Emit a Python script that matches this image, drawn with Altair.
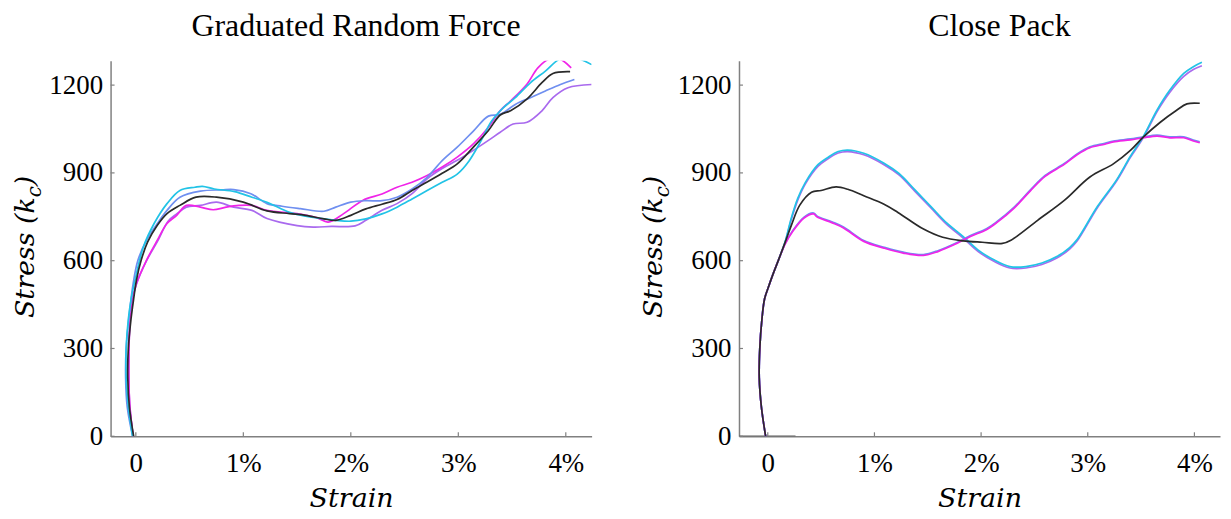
import altair as alt
import pandas as pd

# ---------------- data ----------------
X_TICKS = [0, 1, 2, 3, 4]
Y_TICKS = [0, 300, 600, 900, 1200]

# Panel 1: Graduated Random Force
grf_black_x = [-0.02, -0.06, -0.075, -0.07, -0.045, -0.02, 0.006, 0.05, 0.11, 0.20, 0.29, 0.41, 0.56, 0.75, 1.00, 1.22, 1.43, 1.58, 1.75, 1.86, 2.00, 2.14, 2.29, 2.43, 2.57, 2.71, 2.85, 2.99, 3.14, 3.28, 3.39, 3.49, 3.64, 3.78, 3.88, 4.04]
grf_black_y = [0, 100, 200, 300, 400, 470, 534, 602, 664, 721, 761, 789, 817, 817, 800, 770, 761, 755, 743, 738, 755, 777, 793, 809, 840, 869, 899, 931, 988, 1045, 1098, 1113, 1153, 1209, 1240, 1246]

grf_cyan_x = [-0.03, -0.07, -0.09, -0.09, -0.07, -0.04, 0.006, 0.07, 0.17, 0.29, 0.41, 0.55, 0.62, 0.73, 0.92, 1.08, 1.22, 1.43, 1.58, 1.75, 1.86, 2.00, 2.14, 2.29, 2.43, 2.57, 2.71, 2.85, 2.99, 3.10, 3.21, 3.31, 3.42, 3.53, 3.67, 3.81, 3.95, 4.10, 4.24]
grf_cyan_y = [0, 100, 200, 300, 400, 476, 556, 647, 727, 795, 840, 851, 854, 845, 836, 817, 800, 765, 752, 743, 738, 735, 743, 760, 783, 811, 840, 868, 896, 941, 1009, 1077, 1123, 1157, 1208, 1248, 1290, 1292, 1270]

grf_blue_x = [-0.03, -0.08, -0.095, -0.09, -0.06, -0.025, 0.02, 0.10, 0.20, 0.29, 0.41, 0.60, 0.80, 0.91, 1.07, 1.22, 1.36, 1.53, 1.75, 1.86, 2.00, 2.14, 2.29, 2.43, 2.57, 2.71, 2.85, 2.99, 3.14, 3.28, 3.39, 3.53, 3.67, 3.81, 3.95, 4.08]
grf_blue_y = [0, 100, 200, 300, 420, 522, 602, 670, 727, 772, 817, 838, 842, 843, 829, 795, 786, 778, 769, 783, 800, 805, 805, 817, 845, 885, 942, 988, 1043, 1094, 1100, 1134, 1157, 1180, 1202, 1219]

grf_magenta_x = [-0.025, -0.055, -0.065, -0.06, -0.04, 0.006, 0.10, 0.20, 0.29, 0.38, 0.47, 0.60, 0.72, 0.84, 0.96, 1.08, 1.22, 1.50, 1.68, 1.79, 1.93, 2.11, 2.29, 2.43, 2.57, 2.71, 2.85, 2.99, 3.14, 3.28, 3.39, 3.49, 3.64, 3.74, 3.85, 3.95, 4.05]
grf_magenta_y = [0, 100, 200, 350, 454, 522, 602, 670, 727, 755, 789, 783, 774, 783, 789, 789, 772, 761, 747, 732, 760, 806, 828, 851, 868, 891, 920, 954, 999, 1056, 1113, 1147, 1204, 1259, 1290, 1288, 1259]

grf_purple_x = [-0.025, -0.055, -0.065, -0.06, -0.04, 0.006, 0.10, 0.20, 0.30, 0.38, 0.47, 0.60, 0.75, 0.91, 1.08, 1.22, 1.50, 1.65, 1.82, 2.04, 2.14, 2.29, 2.43, 2.57, 2.71, 2.85, 2.99, 3.14, 3.28, 3.39, 3.51, 3.64, 3.78, 3.88, 4.02, 4.24]
grf_purple_y = [0, 100, 190, 350, 450, 520, 600, 665, 735, 760, 783, 789, 800, 783, 772, 744, 720, 715, 717, 719, 738, 772, 795, 829, 880, 915, 943, 977, 1011, 1039, 1067, 1073, 1113, 1157, 1191, 1202]

# Panel 2: Close Pack
cp_high_x = [-0.02, -0.06, -0.08, -0.075, -0.055, -0.03, 0.007, 0.05, 0.10, 0.16, 0.22, 0.28, 0.35, 0.47, 0.56, 0.66, 0.75, 0.90, 1.09, 1.23, 1.38, 1.53, 1.68, 1.83, 1.97, 2.12, 2.27, 2.42, 2.57, 2.71, 2.83, 2.90, 3.09, 3.27, 3.40, 3.52, 3.65, 3.77, 3.90, 3.99, 4.07]
cp_cyan_y = [0, 100, 200, 300, 400, 470, 511, 555, 602, 662, 745, 812, 866, 928, 952, 973, 978, 967, 933, 898, 842, 785, 728, 683, 637, 603, 580, 580, 592, 614, 645, 672, 785, 876, 957, 1024, 1115, 1183, 1240, 1263, 1278]
cp_purple_y = [0, 100, 200, 300, 400, 470, 511, 555, 602, 660, 740, 806, 861, 922, 947, 968, 973, 962, 928, 893, 837, 780, 723, 678, 632, 598, 575, 575, 587, 609, 640, 667, 781, 872, 953, 1020, 1110, 1176, 1230, 1253, 1266]

cp_low_x = [-0.02, -0.06, -0.08, -0.075, -0.055, -0.03, 0.007, 0.05, 0.10, 0.16, 0.23, 0.34, 0.43, 0.46, 0.60, 0.71, 0.90, 1.09, 1.27, 1.46, 1.60, 1.75, 1.90, 2.05, 2.15, 2.31, 2.46, 2.60, 2.78, 2.90, 3.02, 3.16, 3.24, 3.40, 3.52, 3.65, 3.77, 3.90, 3.99, 4.05]
cp_magenta_y = [0, 100, 200, 300, 400, 470, 511, 555, 602, 655, 698, 746, 760, 750, 730, 712, 666, 643, 626, 618, 632, 655, 683, 706, 731, 780, 838, 888, 929, 962, 986, 998, 1006, 1013, 1020, 1026, 1020, 1020, 1009, 1003]
cp_blue_y = [0, 100, 200, 300, 400, 470, 511, 555, 602, 657, 701, 749, 763, 753, 733, 715, 669, 646, 629, 621, 635, 658, 686, 709, 734, 783, 841, 891, 932, 965, 989, 1001, 1009, 1016, 1023, 1029, 1023, 1023, 1012, 1006]

cp_black_x = [-0.02, -0.06, -0.08, -0.075, -0.055, -0.03, 0.007, 0.05, 0.10, 0.16, 0.22, 0.30, 0.41, 0.50, 0.64, 0.75, 0.90, 1.09, 1.22, 1.46, 1.64, 1.83, 2.01, 2.20, 2.28, 2.53, 2.78, 3.02, 3.24, 3.40, 3.52, 3.68, 3.83, 3.93, 4.05]
cp_black_y = [0, 100, 200, 300, 400, 470, 511, 555, 602, 660, 720, 790, 834, 840, 852, 844, 822, 793, 765, 708, 680, 668, 663, 659, 670, 738, 806, 886, 931, 977, 1022, 1073, 1113, 1136, 1138]

cp_base_x = [-0.27, 0.26]
cp_base_y = [0, 0]

COLORS = {
    "cyan": "#22c3e6",
    "blue": "#6f8ff0",
    "purple": "#a96aee",
    "magenta": "#f024e8",
    "black": "#2a2a2a",
    "base": "#5a5a5a",
}

GRAY = "#808080"
W, H = 483, 377
Y_DOMAIN = [0, 1283]


def series_df(xs, ys):
    return pd.DataFrame({"strain": xs, "stress": ys, "i": list(range(len(xs)))})


def panel(series, xdom, title, title_dx):
    xs = alt.Scale(domain=xdom, nice=False, zero=False)
    ys = alt.Scale(domain=Y_DOMAIN, nice=False, zero=False)
    xaxis = alt.Axis(
        values=X_TICKS,
        labelExpr="datum.value == 0 ? '0' : datum.value + '%'",
        ticks=False, grid=False,
        domainColor=GRAY, domainWidth=1.5,
        labelFont="Liberation Serif", labelFontSize=27, labelColor="#000000",
        labelPadding=14, labelFlush=False, labelOverlap=False,
        title="Strain", titleFont="DejaVu Serif", titleFontStyle="italic",
        titleFontWeight="normal", titleFontSize=27, titleColor="#000000",
        titleY=71, titleBaseline="alphabetic",
    )
    yaxis = alt.Axis(
        values=Y_TICKS, format="d", ticks=False, grid=False,
        domainColor=GRAY, domainWidth=1.5,
        labelFont="Liberation Serif", labelFontSize=27, labelColor="#000000",
        labelPadding=8, labelFlush=False, labelOverlap=False,
        title=None,
    )
    layers = []
    for name, xv, yv in series:
        layers.append(
            alt.Chart(series_df(xv, yv))
            .mark_line(color=COLORS[name], strokeWidth=1.7, clip=True, interpolate="catmull-rom")
            .encode(
                x=alt.X("strain:Q", scale=xs, axis=xaxis),
                y=alt.Y("stress:Q", scale=ys, axis=yaxis),
                order=alt.Order("i:Q"),
            )
        )
    # inward ticks
    layers.append(
        alt.Chart(pd.DataFrame({"strain": X_TICKS}))
        .mark_rule(color=GRAY, strokeWidth=1.2)
        .encode(x=alt.X("strain:Q", scale=xs, axis=xaxis), y=alt.value(H), y2=alt.value(H - 4))
    )
    layers.append(
        alt.Chart(pd.DataFrame({"stress": Y_TICKS}))
        .mark_rule(color=GRAY, strokeWidth=1.2)
        .encode(y=alt.Y("stress:Q", scale=ys, axis=yaxis), x=alt.value(0), x2=alt.value(4))
    )
    # y-axis title with subscript
    one = pd.DataFrame({"k": [0]})
    common = dict(angle=270, baseline="alphabetic", font="DejaVu Serif",
                  fontStyle="italic", color="#000000")
    layers.append(alt.Chart(one).mark_text(text="Stress (k", align="right", fontSize=27, **common)
                  .encode(x=alt.value(-77), y=alt.value(137)))
    layers.append(alt.Chart(one).mark_text(text="c", align="left", fontSize=20, dy=7, **common)
                  .encode(x=alt.value(-77), y=alt.value(137)))
    layers.append(alt.Chart(one).mark_text(text=")", align="left", fontSize=27, dx=11, **common)
                  .encode(x=alt.value(-77), y=alt.value(137)))
    return alt.layer(*layers).properties(
        width=W, height=H,
        title=alt.TitleParams(title, font="Liberation Serif", fontSize=32, fontWeight="normal",
                              color="#000000", anchor="middle", frame="group",
                              offset=-7, baseline="alphabetic", dx=title_dx),
    )


left = panel(
    [
        ("purple", grf_purple_x, grf_purple_y),
        ("magenta", grf_magenta_x, grf_magenta_y),
        ("blue", grf_blue_x, grf_blue_y),
        ("cyan", grf_cyan_x, grf_cyan_y),
        ("black", grf_black_x, grf_black_y),
    ],
    [-0.235, 4.24], "Graduated Random Force", 5,
)

right = panel(
    [
        ("base", cp_base_x, cp_base_y),
        ("purple", cp_high_x, cp_purple_y),
        ("cyan", cp_high_x, cp_cyan_y),
        ("blue", cp_low_x, cp_blue_y),
        ("magenta", cp_low_x, cp_magenta_y),
        ("black", cp_black_x, cp_black_y),
    ],
    [-0.27, 4.24], "Close Pack", 20,
)

chart = (
    alt.hconcat(left, right, spacing=148, bounds="flush")
    .properties(padding={"left": 4, "top": 1, "right": 3, "bottom": 0}, background="white")
    .configure_view(stroke=None)
)

chart.save("out.html", embed_options={"renderer": "svg", "actions": False})
